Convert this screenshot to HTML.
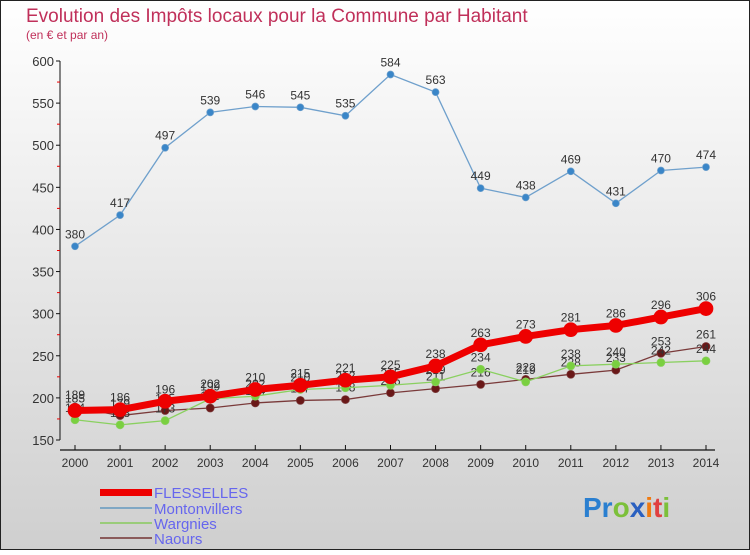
<!DOCTYPE html>
<html><head><meta charset="utf-8"><style>
html,body{margin:0;padding:0}
body{width:750px;height:550px;overflow:hidden;font-family:"Liberation Sans",sans-serif}
</style></head><body>
<svg id="chart" width="750" height="550" xmlns="http://www.w3.org/2000/svg">
<defs><linearGradient id="bg" x1="0" y1="0" x2="0" y2="1"><stop offset="0" stop-color="#ffffff"/><stop offset="1" stop-color="#cfcfcf"/></linearGradient></defs>
<rect x="0.5" y="0.5" width="749" height="549" fill="url(#bg)" stroke="#222" stroke-width="1"/>
<text x="26" y="22" font-size="19" fill="#c0305a">Evolution des Impôts locaux pour la Commune par Habitant</text>
<text x="26" y="39" font-size="12" fill="#c0305a">(en € et par an)</text>
<g id="axes"></g><g id="series"></g>
<g>
<rect x="100" y="489" width="52" height="7" fill="#ee0000"/>
<text x="154" y="498" font-size="15" fill="#6666ee">FLESSELLES</text>
<rect x="100" y="507" width="52" height="2" fill="#7fa7c4"/>
<text x="154" y="514" font-size="15" fill="#6666ee">Montonvillers</text>
<rect x="100" y="522" width="52" height="2" fill="#9acc7a"/>
<text x="154" y="529" font-size="15" fill="#6666ee">Wargnies</text>
<rect x="100" y="537" width="52" height="2" fill="#8a5a5a"/>
<text x="154" y="544" font-size="15" fill="#6666ee">Naours</text>
</g>
<text x="583" y="517" font-size="28" font-weight="bold"><tspan fill="#2a7fd0">Pr</tspan><tspan fill="#7cc03a">o</tspan><tspan fill="#2a60c0">x</tspan><tspan fill="#f07a10">i</tspan><tspan fill="#e04040">t</tspan><tspan fill="#7cc03a">i</tspan></text>
</svg>
<script>
const years=[2000,2001,2002,2003,2004,2005,2006,2007,2008,2009,2010,2011,2012,2013,2014];
const yTicks=[150,200,250,300,350,400,450,500,550,600];
const flesselles=[185,186,196,202,210,215,221,225,238,263,273,281,286,296,306];
const montonvillers=[380,417,497,539,546,545,535,584,563,449,438,469,431,470,474];
const wargnies=[174,168,173,199,202,210,212,215,219,234,219,238,240,242,244];
const naours=[189,179,185,188,194,197,198,206,211,216,222,228,233,253,261];
const NS="http://www.w3.org/2000/svg";
const X=i=>75+i*(706-75)/(years.length-1);
const Y=v=>440-(v-150)*(440-61)/450;
function mk(t,a,p){const e=document.createElementNS(NS,t);for(const k in a)e.setAttribute(k,a[k]);p.appendChild(e);return e;}
const ax=document.getElementById('axes');
const yl=mk('line',{x1:60,y1:Y(600),x2:60,y2:440,stroke:'#111','stroke-width':1},ax);


const xl=mk('line',{x1:60,y1:450,x2:715,y2:450,stroke:'#111','stroke-width':1.3},ax);


yTicks.forEach(v=>{
 mk('line',{x1:56,y1:Y(v),x2:60,y2:Y(v),stroke:'#111'},ax);
 if(v<600) mk('line',{x1:57,y1:Y(v+25),x2:60,y2:Y(v+25),stroke:'#e00'},ax);
 const t=mk('text',{x:54,y:Y(v)+5,'text-anchor':'end','font-size':13,fill:'#333'},ax);t.textContent=v;
 
 
});
years.forEach((yr,i)=>{
 mk('line',{x1:X(i),y1:445,x2:X(i),y2:450,stroke:'#111'},ax);
 const t=mk('text',{x:X(i),y:467,'text-anchor':'middle','font-size':12,fill:'#333'},ax);t.textContent=yr;
 
 
});
const sg=document.getElementById('series');
function draw(vals,name,col,dot,w,r){
 const g=mk('g',{},sg);
 
 
 const p=mk('polyline',{points:vals.map((v,i)=>X(i)+','+Y(v)).join(' '),fill:'none',stroke:col,'stroke-width':w},g);
 vals.forEach((v,i)=>{
  const c=mk('circle',{cx:X(i),cy:Y(v),r:r,fill:dot,stroke:col,'stroke-width':0.7},g);
  
  
  const t=mk('text',{x:X(i),y:Y(v)-8,'text-anchor':'middle','font-size':12,fill:'#333'},g);t.textContent=v;
  
  
 });
}
draw(montonvillers,'montonvillers','#6fa0cc','#3a86c8',1.3,3.5);
draw(naours,'naours','#7a3a3a','#6a1818',1.3,4);
draw(wargnies,'wargnies','#8ad060','#7ad040',1.3,4);
draw(flesselles,'flesselles','#ee0000','#ee0000',7,7);
</script>
</body></html>
